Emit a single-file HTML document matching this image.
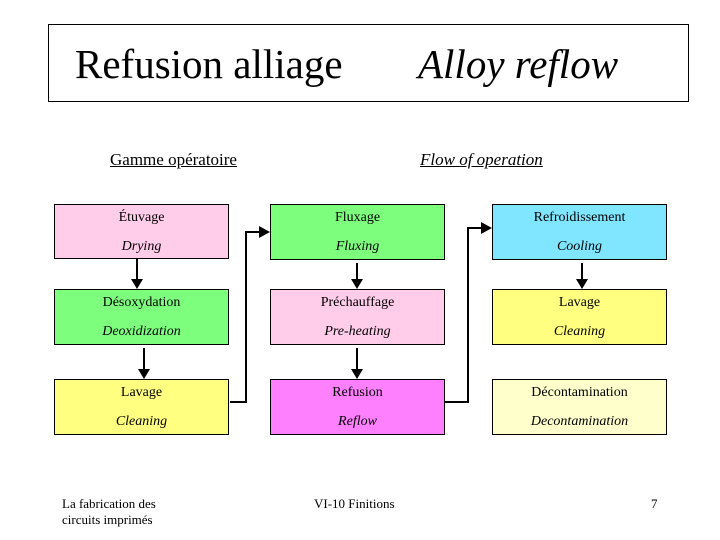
<!DOCTYPE html>
<html><head><meta charset="utf-8"><style>
body{margin:0;width:720px;height:540px;background:#fff;position:relative;font-family:"Liberation Serif",serif;overflow:hidden}
.a{position:absolute}
.box{position:absolute;border:1px solid #000;box-sizing:border-box;text-align:center;font-size:14px;color:#000}
.box .t{position:absolute;left:0;right:0;top:5px}
.box .i{position:absolute;left:0;right:0;top:34px;font-style:italic}
</style></head><body>
<div class="a" style="left:48px;top:24px;width:641px;height:78px;border:1px solid #000;box-sizing:border-box"></div>
<div class="a" style="left:75px;top:40px;font-size:41px">Refusion alliage</div>
<div class="a" style="left:418px;top:40px;font-size:41px;font-style:italic">Alloy reflow</div>
<div class="a" style="left:110px;top:150px;font-size:17px;text-decoration:underline">Gamme opératoire</div>
<div class="a" style="left:420px;top:150px;font-size:17px;font-style:italic;text-decoration:underline">Flow of operation</div>

<div class="box" style="left:54px;top:204px;width:175px;height:55px;background:#ffccea"><div class="t">Étuvage</div><div class="i">Drying</div></div>
<div class="box" style="left:54px;top:289px;width:175px;height:56px;background:#7dff7d"><div class="t">Désoxydation</div><div class="i">Deoxidization</div></div>
<div class="box" style="left:54px;top:379px;width:175px;height:56px;background:#ffff80"><div class="t">Lavage</div><div class="i">Cleaning</div></div>

<div class="box" style="left:270px;top:204px;width:175px;height:56px;background:#7dff7d"><div class="t">Fluxage</div><div class="i">Fluxing</div></div>
<div class="box" style="left:270px;top:289px;width:175px;height:56px;background:#ffccea"><div class="t">Préchauffage</div><div class="i">Pre-heating</div></div>
<div class="box" style="left:270px;top:379px;width:175px;height:56px;background:#ff80ff"><div class="t">Refusion</div><div class="i">Reflow</div></div>

<div class="box" style="left:492px;top:204px;width:175px;height:56px;background:#80e6ff"><div class="t">Refroidissement</div><div class="i">Cooling</div></div>
<div class="box" style="left:492px;top:289px;width:175px;height:56px;background:#ffff80"><div class="t">Lavage</div><div class="i">Cleaning</div></div>
<div class="box" style="left:492px;top:379px;width:175px;height:56px;background:#ffffcc"><div class="t">Décontamination</div><div class="i">Decontamination</div></div>

<svg class="a" style="left:0;top:0" width="720" height="540">
<g stroke="#000" stroke-width="2" fill="none">
<line x1="137" y1="259" x2="137" y2="280"/>
<line x1="144" y1="348" x2="144" y2="370"/>
<line x1="357" y1="263" x2="357" y2="280"/>
<line x1="357" y1="348" x2="357" y2="370"/>
<line x1="582" y1="263" x2="582" y2="280"/>
<polyline points="230,402 246,402 246,232 260,232"/>
<polyline points="445,402 468,402 468,228 482,228"/>
</g>
<g fill="#000">
<polygon points="131,279 143,279 137,289"/>
<polygon points="138,369 150,369 144,379"/>
<polygon points="351,279 363,279 357,289"/>
<polygon points="351,369 363,369 357,379"/>
<polygon points="576,279 588,279 582,289"/>
<polygon points="259,226 259,238 270,232"/>
<polygon points="481,222 481,234 492,228"/>
</g>
</svg>
<div class="a" style="left:62px;top:496px;font-size:13px;line-height:16px">La fabrication des<br>circuits imprimés</div>
<div class="a" style="left:314px;top:496px;font-size:13px">VI-10 Finitions</div>
<div class="a" style="left:651px;top:496px;font-size:13px">7</div>
</body></html>
